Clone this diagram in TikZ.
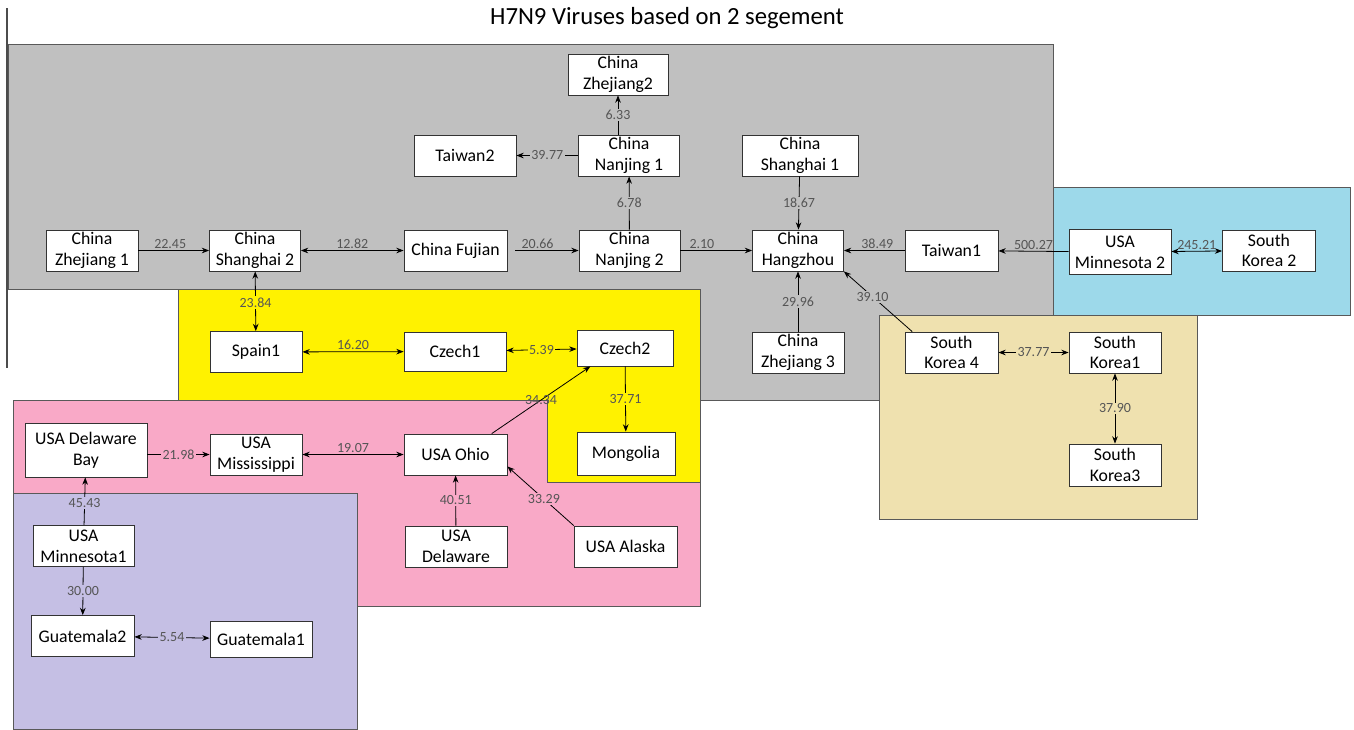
\documentclass[tikz,border=0pt]{standalone}
\usepackage{fontspec}
\setmainfont{Carlito}
\usepackage{xcolor}
\usepackage{tikz}
\usetikzlibrary{arrows.meta}
\definecolor{regGray}{HTML}{C0C0C0}
\definecolor{regBlue}{HTML}{9DD9EA}
\definecolor{regKhaki}{HTML}{EFE1AF}
\definecolor{regYellow}{HTML}{FFF200}
\definecolor{regPink}{HTML}{F9A9C7}
\definecolor{regLav}{HTML}{C5BFE4}
\definecolor{labelink}{HTML}{555555}

\begin{document}
\begin{tikzpicture}[
  x=0.75pt,y=-0.75pt,
  font=\fontsize{13.3}{15.5}\selectfont,
  box/.style={rectangle,draw=black!80,fill=white,align=center,
    minimum height=30.75pt,inner sep=1pt,line width=0.6pt},
  region/.style={draw=black!65,line width=0.6pt},
  arr/.style={-{Stealth[length=5.5pt,width=4.2pt]},line width=0.6pt},
  darr/.style={{Stealth[length=5.5pt,width=4.2pt]}-{Stealth[length=5.5pt,width=4.2pt]},line width=0.6pt},
  lbl/.style={font=\fontsize{10.5}{12}\selectfont,text=labelink,inner sep=1pt},
  onl/.style={lbl,fill=#1}]

\useasboundingbox (0,0) rectangle (1354,729);

% coloured groups
\draw[region,fill=regGray] (8,44) -- (1053,44) -- (1053,400) -- (178,400) -- (178,289) -- (8,289) -- cycle;
\draw[region,fill=regBlue] (1053,187) rectangle (1350,315);
\draw[region,fill=regKhaki] (879,315) rectangle (1197,519);
\draw[region,fill=regPink] (13,400) rectangle (700,606);
\draw[region,fill=regYellow] (178,289) -- (700,289) -- (700,482) -- (547,482) -- (547,400) -- (178,400) -- cycle;
\draw[region,fill=regLav] (13,493) rectangle (357,729);
\draw[black!70,line width=0.8pt] (7,8) -- (7,368);

\node[font=\fontsize{18.5}{22}\selectfont] (title) at (667,18) {H7N9 Viruses based on 2 segement};

% China group
\node[box,minimum width=75pt] (zj2) at (618,74.5) {China\\Zhejiang2};
\node[box,minimum width=76.5pt] (tw2) at (465,155.5) {Taiwan2};
\node[box,minimum width=75.75pt] (nj1) at (629,155.5) {China\\Nanjing 1};
\node[box,minimum width=87pt] (sh1) at (800,155.5) {China\\Shanghai 1};
\node[box,minimum width=69pt] (zj1) at (92,250.5) {China\\Zhejiang 1};
\node[box,minimum width=68.25pt] (sh2) at (255,250.5) {China\\Shanghai 2};
\node[box,minimum width=77.25pt] (fuj) at (455.5,250.5) {China Fujian};
\node[box,minimum width=75.75pt] (nj2) at (629.5,250.5) {China\\Nanjing 2};
\node[box,minimum width=68.25pt] (hz) at (798,250.5) {China\\Hangzhou};
\node[box,minimum width=69.75pt] (tw1) at (951.5,250.5) {Taiwan1};
\node[box,minimum width=69pt] (zj3) at (798,352.5) {China\\Zhejiang 3};

% USA / Korea
\node[box,minimum width=76.5pt,minimum height=33.75pt] (mn2) at (1120,252) {USA\\Minnesota 2};
\node[box,minimum width=69.75pt] (sk2) at (1269,250.5) {South\\Korea 2};
\node[box,minimum width=69.75pt] (sk4) at (951.5,352.5) {South\\Korea 4};
\node[box,minimum width=69pt] (sk1) at (1115,352.5) {South\\Korea1};
\node[box,minimum width=69pt,minimum height=31.5pt] (sk3) at (1115,465) {South\\Korea3};

% Europe
\node[box,minimum width=69pt] (sp1) at (256,352) {Spain1};
\node[box,minimum width=76.5pt,minimum height=29.25pt] (cz1) at (455,351.5) {Czech1};
\node[box,minimum width=72pt,minimum height=27pt] (cz2) at (625,348) {Czech2};
\node[box,minimum width=73.5pt,minimum height=32.25pt] (mong) at (626,453.5) {Mongolia};

% USA
\node[box,minimum width=91.5pt,minimum height=40.5pt] (dbay) at (86,450) {USA Delaware\\Bay};
\node[box,minimum width=69pt] (miss) at (256,454.5) {USA\\Mississippi};
\node[box,minimum width=77.25pt] (ohio) at (455.5,454.5) {USA Ohio};
\node[box,minimum width=76.5pt] (dela) at (456,546.5) {USA\\Delaware};
\node[box,minimum width=77.25pt] (alaska) at (625.5,546.5) {USA Alaska};
\node[box,minimum width=75.75pt] (mn1) at (83.5,546) {USA\\Minnesota1};
\node[box,minimum width=77.25pt] (gua2) at (82.5,636) {Guatemala2};
\node[box,minimum width=76.5pt,minimum height=27pt] (gua1) at (261,639) {Guatemala1};

% connectors
\draw[arr] (zj1) -- node[lbl,above,pos=0.45]{22.45} (sh2);
\draw[darr] (sh2) -- node[lbl,above]{12.82} (fuj);
\draw[arr] ([xshift=6pt]fuj.east) -- node[lbl,above,pos=0.35]{20.66} (nj2);
\draw[arr] (nj2) -- node[lbl,above,pos=0.3]{2.10} (hz);
\draw[arr] (tw1) -- node[lbl,above,pos=0.45]{38.49} (hz);
\draw[arr] (mn2) -- node[lbl,above]{500.27} (tw1);
\draw[darr] (mn2) -- node[lbl,above]{245.21} (sk2);
\draw[arr] (nj2) -- node[onl=regGray]{6.78} (nj1);
\draw[arr] (nj1.north -| zj2.south) -- node[onl=regGray]{6.33} (zj2.south);
\draw[arr] (nj1) -- node[onl=regGray]{39.77} (tw2);
\draw[arr] (sh1) -- node[onl=regGray]{18.67} (hz);
\draw[arr] (zj3) -- node[onl=regGray]{29.96} (hz);
\draw[arr] (sk4.152) -- node[onl=regGray,pos=0.58]{39.10} (hz.south east);
\draw[darr] (sh2) -- node[onl=regYellow,pos=0.52]{23.84} (sp1);
\draw[darr] (sp1) -- node[lbl,above]{16.20} (cz1);
\draw[darr] (cz1) -- node[onl=regYellow]{5.39} (cz2);
\draw[arr] (cz2) -- node[onl=regYellow]{37.71} (mong);
\draw[arr] (ohio.30) -- node[lbl]{34.34} (cz2.208);
\draw[arr] (dbay.east |- miss) -- node[onl=regPink]{21.98} (miss);
\draw[darr] (miss) -- node[lbl,above]{19.07} (ohio);
\draw[arr] (dela) -- node[onl=regPink]{40.51} (ohio);
\draw[arr] (alaska.158) -- node[onl=regPink,pos=0.45]{33.29} (ohio.-13);
\draw[arr] (mn1) -- node[onl=regLav,pos=0.47]{45.43} (dbay);
\draw[arr] (mn1) -- node[onl=regLav]{30.00} (gua2);
\draw[darr] (gua2) -- node[onl=regLav]{5.54} (gua1);
\draw[darr] (sk4) -- node[onl=regKhaki]{37.77} (sk1);
\draw[darr] (sk1) -- node[onl=regKhaki]{37.90} (sk3);
\end{tikzpicture}
\end{document}
